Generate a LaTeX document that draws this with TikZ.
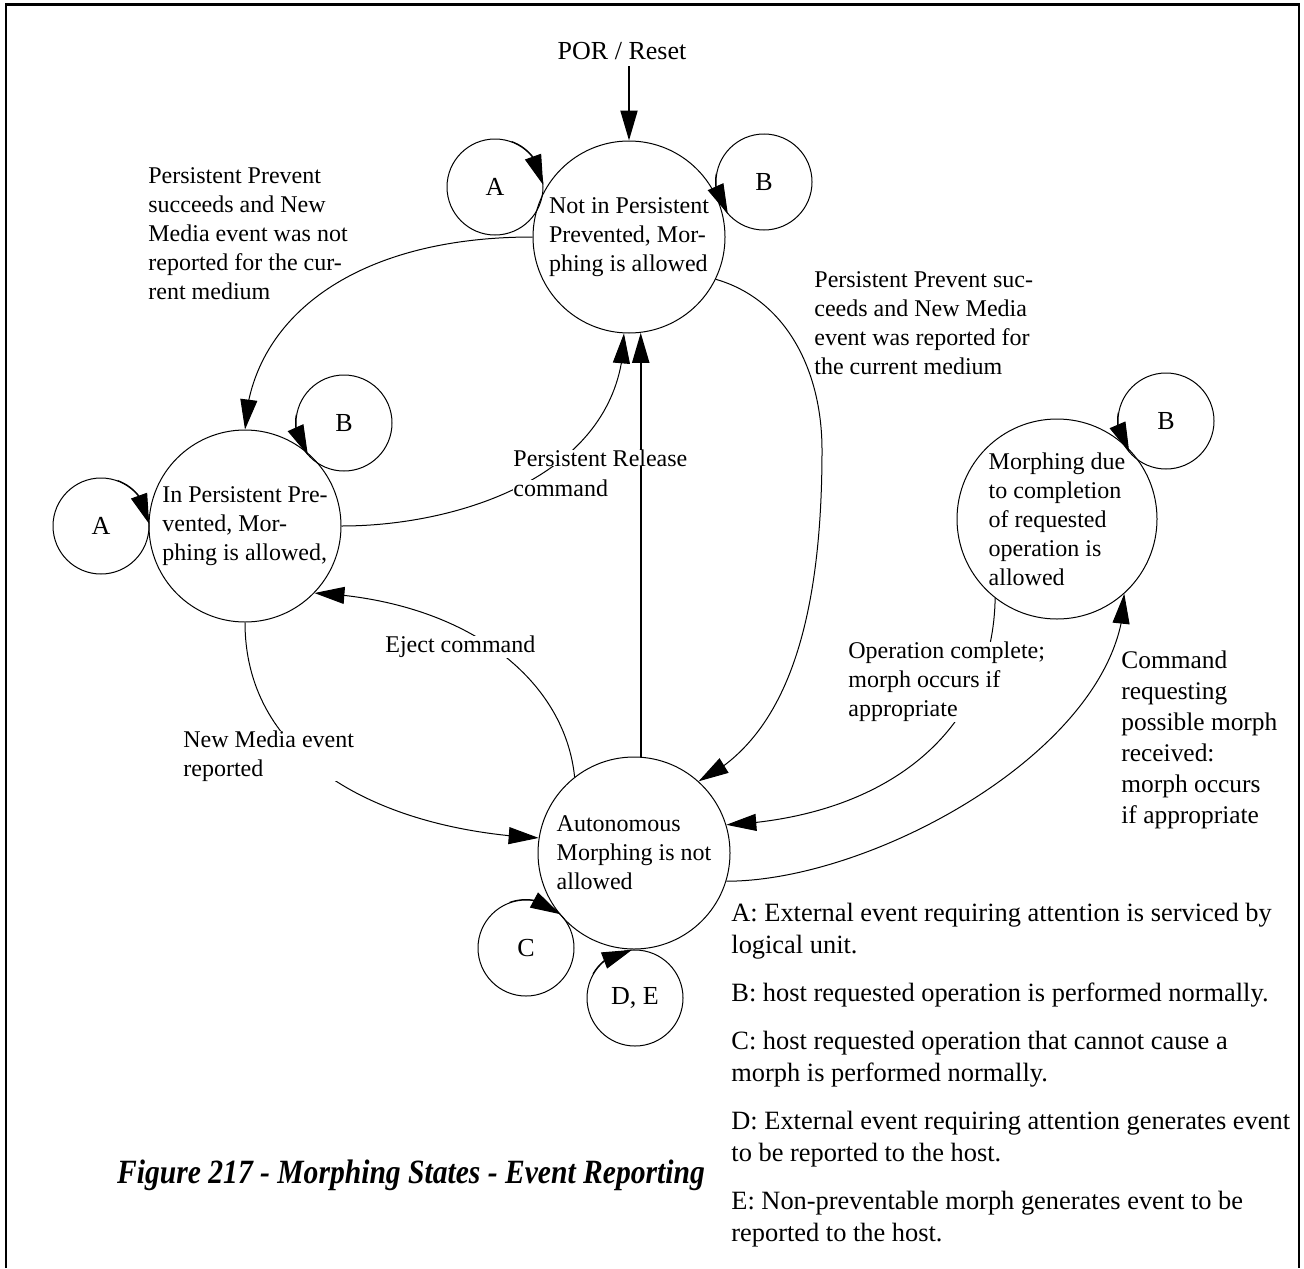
\documentclass[tikz,border=0pt]{standalone}
\usepackage{fontspec}
\setmainfont{Liberation Serif}
\newfontfamily\figcapfont[FakeStretch=0.87]{Liberation Serif}
\usetikzlibrary{positioning,arrows.meta,bending}

\begin{document}
\begin{tikzpicture}[
  x=0.5pt, y=0.5pt,
  font=\fontsize{12}{14.5}\selectfont,
  state/.style={circle, draw, line width=0.5pt, minimum size=96pt, inner sep=0pt, align=left},
  selfloop/.style={circle, draw, line width=0.5pt, minimum size=48pt, inner sep=0pt, font=\fontsize{13}{15}\selectfont},
  lbl/.style={inner sep=0pt, align=left, anchor=west},
  arr/.style={-{Triangle[length=15pt, width=8.5pt]}, line width=0.5pt},
]
\useasboundingbox (0,0) rectangle (1304,-1268);
\draw[line width=1.35pt] (6,-1268) -- (6,-4.5) -- (1299,-4.5) -- (1299,-1268);

% states
\node[state] (nip) at (629,-237) {Not in Persistent\\Prevented, Mor-\\phing is allowed};
\node[state] (ipp) at (245,-526) {In Persistent Pre-\\vented, Mor-\\phing is allowed,};
\node[state] (aut) at (634,-853) {Autonomous\\Morphing is not\\allowed};
\node[state, minimum size=100pt] (md) at (1057,-519) {Morphing due\\to completion\\of requested\\operation is\\allowed};

\node[font=\fontsize{13}{15}\selectfont, above=37pt of nip, xshift=-3.5pt] (por) {POR / Reset};
\draw[arr, line width=1pt] (por.south -| nip.north) -- (nip.north);

% self loops
\node[selfloop] (lpa1) at (495,-187) {A};
\node[selfloop] (lpb1) at (764,-182) {B};
\node[selfloop] (lpa2) at (101,-526) {A};
\node[selfloop] (lpb2) at (344,-423) {B};
\node[selfloop] (lpc) at (526,-948) {C};
\node[selfloop] (lpde) at (635,-998) {D, E};
\node[selfloop] (lpb3) at (1166,-421) {B};
\draw[arr] (lpa1.70) arc[start angle=70, end angle=2, radius=24pt];
\draw[arr] (lpb1.170) arc[start angle=170, end angle=222, radius=24pt];
\draw[arr] (lpa2.70) arc[start angle=70, end angle=2, radius=24pt];
\draw[arr] (lpb2.170) arc[start angle=170, end angle=222, radius=24pt];
\draw[arr] (lpc.110) arc[start angle=110, end angle=44, radius=24pt];
\draw[arr] (lpde.150) arc[start angle=150, end angle=93, radius=24pt];
\draw[arr] (lpb3.170) arc[start angle=170, end angle=221, radius=24pt];

% transitions
\draw[arr] (nip.180) .. controls +(-180,0) and +(5,110) .. (ipp.90);
\draw[arr] (nip.-26) .. controls +(70,-20) and +(0,80) .. (822,-450) .. controls +(0,-190) and +(80,40) .. (aut.48);
\draw[arr] (ipp.0) .. controls +(120,0) and +(0,-140) .. (nip.-93);
\draw[arr] (aut.128) .. controls +(-10,98) and +(152,-7) .. (ipp.-44);
\draw[arr] (ipp.-90) .. controls +(0,-138) and +(-158,8) .. (aut.171);
\draw[arr, line width=1pt] (aut.86) -- (aut.86 |- nip.-83);
\draw[arr] (md.-128) .. controls +(-2,-130) and +(165,8) .. (aut.17);
\draw[arr] (aut.-17) .. controls +(150,0) and +(0,-150) .. (md.-48);

% transition labels
\node[lbl] (lnotrep) at (148,-234) {Persistent Prevent\\succeeds and New\\Media event was not\\reported for the cur-\\rent medium};
\node[lbl] (lrep) at (814,-323) {Persistent Prevent suc-\\ceeds and New Media\\event was reported for\\the current medium};
\node[lbl, fill=white] (lrel) at (513,-458) {Persistent Release};
\node[lbl, fill=white] (lrelcmd) at (513,-488) {command};
\node[lbl, fill=white] (leject) at (385,-647) {Eject command};
\node[lbl, fill=white] (lnew) at (183,-756) {New Media event\\reported};
\node[lbl, fill=white] (lop) at (848,-682) {Operation complete;\\morph occurs if\\appropriate};
\node[lbl, font=\fontsize{12.7}{15.5}\selectfont] (lcmd) at (1121,-740) {Command\\requesting\\possible morph\\received:\\morph occurs\\if appropriate};

% legend and caption
\node[lbl, font=\fontsize{13.2}{16}\selectfont] (legend) at (731,-1075) {A: External event requiring attention is serviced by\\logical unit.\\[8pt]B: host requested operation is performed normally.\\[8pt]C: host requested operation that cannot cause a\\morph is performed normally.\\[8pt]D: External event requiring attention generates event\\to be reported to the host.\\[8pt]E: Non-preventable morph generates event to be\\reported to the host.};
\node[font=\figcapfont\fontsize{17}{20}\selectfont\bfseries\itshape] (cap) at (411,-1175) {Figure 217 - Morphing States - Event Reporting};
\end{tikzpicture}
\end{document}
